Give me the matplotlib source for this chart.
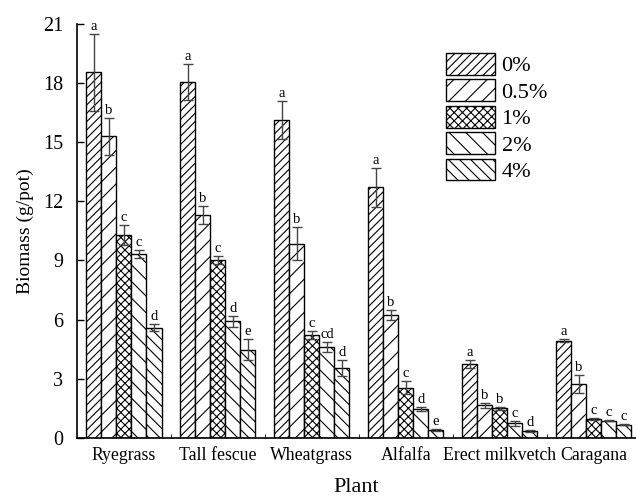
import matplotlib.pyplot as plt
import numpy as np

plants = ['Ryegrass', 'Tall fescue', 'Wheatgrass', 'Alfalfa', 'Erect milkvetch', 'Caragana']
levels = ['0%', '0.5%', '1%', '2%', '4%']

# biomass per level (rows) for each plant (columns)
biomass = [
    [18.55, 18.05, 16.12, 12.71, 3.75, 4.92],
    [15.30, 11.29, 9.85, 6.22, 1.64, 2.73],
    [10.30, 9.00, 5.22, 2.53, 1.49, 0.97],
    [9.32, 5.91, 4.59, 1.46, 0.73, 0.86],
    [5.58, 4.46, 3.54, 0.39, 0.34, 0.66],
]
errors = [
    [1.95, 0.90, 0.95, 0.98, 0.20, 0.08],
    [0.95, 0.45, 0.85, 0.27, 0.12, 0.47],
    [0.50, 0.20, 0.22, 0.33, 0.06, 0.05],
    [0.22, 0.29, 0.25, 0.08, 0.12, 0.03],
    [0.17, 0.54, 0.40, 0.05, 0.05, 0.02],
]
letters = [
    ['a', 'a', 'a', 'a', 'a', 'a'],
    ['b', 'b', 'b', 'b', 'b', 'b'],
    ['c', 'c', 'c', 'c', 'b', 'c'],
    ['c', 'd', 'cd', 'd', 'c', 'c'],
    ['d', 'e', 'd', 'e', 'd', 'c'],
]
hatches = ['////', '//', 'xxxx', '\\\\', '\\\\\\']

plt.rcParams['font.family'] = ['Liberation Serif', 'DejaVu Serif']
plt.rcParams['hatch.linewidth'] = 0.8

fig = plt.figure(figsize=(6.36, 4.98), dpi=100)
ax = fig.add_axes([0.121, 0.121, 0.879, 0.831])

x = np.arange(len(plants))
w = 0.16
for i in range(len(levels)):
    pos = x + (i - 2) * w
    ax.bar(pos, biomass[i], w, color='white', edgecolor='black', linewidth=1.0,
           hatch=hatches[i], label=levels[i])
    ax.errorbar(pos, biomass[i], yerr=errors[i], fmt='none', ecolor='#444444',
                elinewidth=1.0, capsize=3.5, capthick=1.0)
    for j in range(len(plants)):
        ax.text(pos[j], biomass[i][j] + errors[i][j] + 0.05, letters[i][j],
                ha='center', va='bottom', fontsize=10.5)

ax.set_xlim(-0.5, 5.45)
ax.set_ylim(0, 21)
ax.set_yticks(np.arange(0, 22, 3))
ax.set_xticks(x)
ax.set_xticklabels(plants, fontsize=12.8)
ax.set_xticks(np.arange(0.5, 5.5, 1), minor=True)
ax.tick_params(axis='x', which='major', length=0, pad=7)
ax.tick_params(axis='x', which='minor', length=3, direction='in')
ax.tick_params(axis='y', direction='in', length=5, labelsize=14.5, width=1, pad=10)
ax.spines['top'].set_visible(False)
ax.spines['right'].set_visible(False)
ax.spines['left'].set_linewidth(1.2)
ax.spines['bottom'].set_linewidth(1.2)

ax.set_ylabel('Biomass (g/pot)', fontsize=14, labelpad=6)
ax.set_xlabel('Plant', fontsize=16, labelpad=10)

ax.legend(loc='upper left', bbox_to_anchor=(446 / 636, 1 - 53 / 498),
          bbox_transform=fig.transFigure, frameon=False, fontsize=16,
          handlelength=2.2, handleheight=1.12, labelspacing=0.14, handletextpad=0.3,
          borderpad=0, borderaxespad=0)

fig.savefig('out.png', dpi=100)
